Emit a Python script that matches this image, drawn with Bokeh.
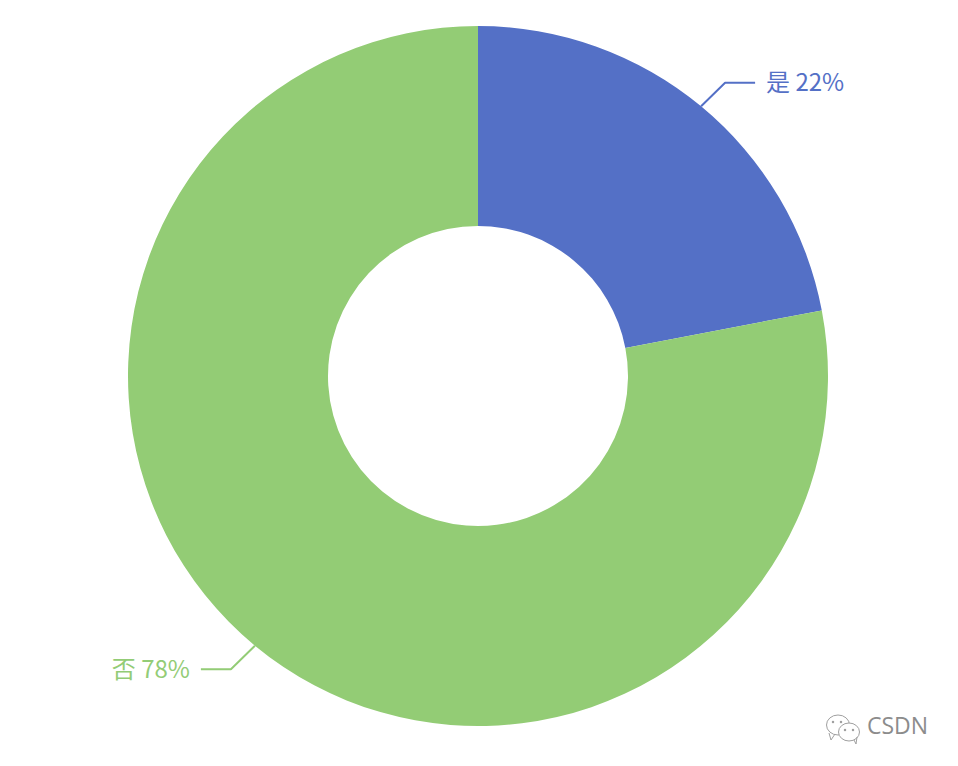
import math
from bokeh.plotting import figure
from bokeh.core.properties import value
from bokeh.embed import file_html
from bokeh.resources import INLINE

categories = ["是", "否"]
percents = [22, 78]
colors = ["#5470c6", "#93cc75"]
label_colors = ["#5470c6", "#93cc76"]

OUTER, INNER = 350, 150
p = figure(width=942, height=750, output_backend="svg", toolbar_location=None,
           x_range=(-477.5, 464.5), y_range=(-374.5, 375.5), min_border=0)
p.axis.visible = False
p.grid.visible = False
p.outline_line_color = None
p.background_fill_color = "white"
p.border_fill_color = "white"

start = math.pi / 2
total = sum(percents)
for cat, pct, col, lcol in zip(categories, percents, colors, label_colors):
    sweep = 2 * math.pi * pct / total
    end = start - sweep
    p.annular_wedge(x=[0], y=[0], inner_radius=INNER, outer_radius=OUTER,
                    start_angle=start, end_angle=end, direction="clock",
                    fill_color=col, line_color=None)
    mid = (start + end) / 2
    sx = 1 if math.cos(mid) > 0 else -1
    sy = 1 if math.sin(mid) > 0 else -1
    x0, y0 = OUTER * math.cos(mid), OUTER * math.sin(mid)
    x1, y1 = x0 + sx * 24, y0 + sy * 23.5
    x2 = x1 + sx * 30
    p.line([x0, x1, x2], [y0, y1, y1], line_color=lcol, line_width=2)
    p.text(x=[x2 + sx * 11], y=[y1 + 2], text=[f"{cat} {pct}%"], text_color=lcol,
           text_font=value("Noto Sans CJK SC"), text_font_size="24px",
           text_align="left" if sx > 0 else "right", text_baseline="middle")
    start = end

# watermark
wm_grey = "#a0a0a0"
p.text(x=[389], y=[-349], text=["CSDN"], text_color="#8c8c8c",
       text_font=value("Open Sans"), text_font_size="23px", text_align="left",
       text_baseline="middle")
p.ellipse(x=[360], y=[-349], width=[23], height=[20], fill_color="white",
          line_color=wm_grey, line_width=1)
p.line([351, 353, 357], [-357, -364, -358], line_color=wm_grey, line_width=1)
p.ellipse(x=[371], y=[-356], width=[21], height=[18], fill_color="white",
          line_color=wm_grey, line_width=1)
p.line([376, 378, 379], [-364, -368, -361], line_color=wm_grey, line_width=1)
p.scatter(x=[355, 363, 367, 375], y=[-346, -346, -354, -354], size=2.5,
          fill_color=wm_grey, line_color=None)

open("out.html", "w").write(file_html(p, INLINE))
